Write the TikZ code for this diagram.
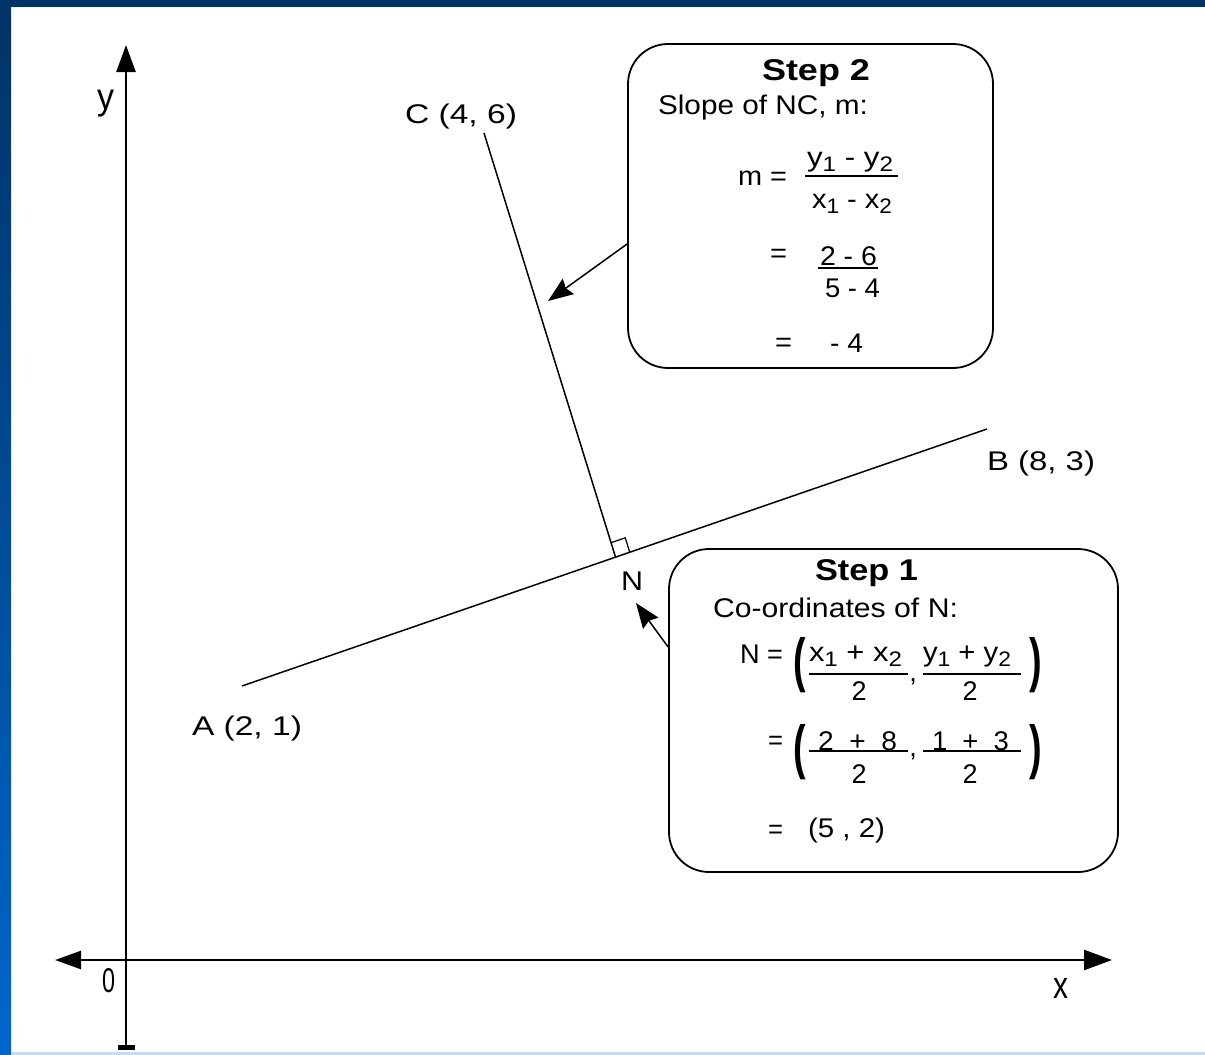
\documentclass[tikz,border=0pt]{standalone}
\usepackage{fontspec}
\setmainfont{Liberation Sans}
\usepackage{graphicx}
\usetikzlibrary{arrows.meta,calc}
\definecolor{navy}{RGB}{0,51,102}
\definecolor{frameblue}{RGB}{0,102,204}
\definecolor{lightband}{RGB}{196,218,250}
\newcommand\fitw[2]{\resizebox{#1pt}{\height}{#2}}
\newcommand\sbs[1]{\raisebox{-5pt}{\fontsize{21}{21}\selectfont #1}}
\begin{document}
\begin{tikzpicture}[x=1pt,y=-1pt,
  lbl/.style={inner sep=0pt, outer sep=0pt, anchor=base west, font=\fontsize{27}{30}\selectfont},
  ttl/.style={lbl, font=\fontsize{30}{33}\selectfont\bfseries},
  digit/.style={inner sep=0pt, outer sep=0pt, anchor=base, font=\fontsize{27}{30}\selectfont},
  paren/.style={inner sep=0pt, outer sep=0pt, font=\fontsize{27}{30}\selectfont\bfseries},
  stepbox/.style={draw, line width=1.8pt, rounded corners=40pt, inner sep=0pt},
  axis/.style={line width=2.6pt},
  seg/.style={line width=1.5pt},
  callout/.style={line width=1.5pt, -{Stealth[length=25pt,width=19pt,inset=3pt]}},
  fbar/.style={line width=1.6pt},
]
\useasboundingbox (0,0) rectangle (1205,1055);
\fill[white] (0,0) rectangle (1205,1055);
% frame
\shade[top color=navy, bottom color=frameblue] (0,0) rectangle (11,1055);
\fill[navy] (0,0) rectangle (1205,6.5);
\fill[lightband] (11,1052) rectangle (1205,1055);

% axes
\coordinate (yb) at (126,1047);
\coordinate (yt) at (126,45);
\coordinate (xl) at (55,960);
\coordinate (xr) at (1112,960);
\coordinate (o) at (126,960);
\draw[axis, -{Triangle[length=27pt,width=19pt]}] (yb) -- (yt);
\fill (118,1045) rectangle (135,1049.5);
\draw[axis, -{Triangle[length=26pt,width=18pt]}] (o) -- (xl);
\draw[axis, -{Triangle[length=28pt,width=20pt]}] (o) -- (xr);
\node[lbl] (ylab) at (97,109) {\resizebox*{17pt}{27pt}{y}};
\node[lbl] (olab) at (102,992) {\resizebox{13pt}{24pt}{0}};
\node[lbl] (xlab) at (1053,998) {\resizebox{15pt}{20pt}{x}};

% points and lines
\coordinate (pA) at (242,686);
\coordinate (pB) at (987,429);
\coordinate (pC) at (484,133);
\coordinate (pN) at (615.5,557);
\draw[seg] (pA) -- (pB);
\draw[seg] (pC) -- (pN);
\coordinate (q1) at ($(pN)!15pt!(pC)$);
\coordinate (q2) at ($(pN)!15pt!(pB)$);
\coordinate (q3) at ($(q1)+(q2)-(pN)$);
\draw[line width=1.2pt] (q1) -- (q3) -- (q2);

\node[lbl] (clab) at (405,123) {\fitw{112}{C (4, 6)}};
\node[lbl] (alab) at (192,735) {\fitw{110}{A (2, 1)}};
\node[lbl] (blab) at (987,470) {\fitw{108}{B (8, 3)}};
\node[lbl] (nlab) at (621,590) {\fitw{22}{N}};

% Step 2 box
\node[stepbox, minimum width=365pt, minimum height=324pt] (s2) at (810.5,206) {};
\node[ttl] (s2t) at (762,80) {\fitw{108}{Step 2}};
\node[lbl] (s2a) at (658,114) {\fitw{210}{Slope of NC, m:}};
\node[lbl] (s2m) at (738,185) {\fitw{49}{m =}};
\node[lbl] (s2n1) at (807,166) {\fitw{86}{y\sbs{1} - y\sbs{2}}};
\draw[fbar] (805,176) -- (898,176);
\node[lbl] (s2d1) at (812,208) {\fitw{80}{x\sbs{1} - x\sbs{2}}};
\node[lbl] (s2e1) at (770,262) {\fitw{17}{=}};
\node[lbl] (s2n2) at (820,265) {\fitw{57}{2 - 6}};
\draw[fbar] (818,268) -- (878,268);
\node[lbl] (s2d2) at (825,297) {\fitw{55}{5 - 4}};
\node[lbl] (s2e2) at (775,351) {\fitw{17}{=}};
\node[lbl] (s2r) at (830,352) {\fitw{33}{- 4}};

% Step 1 box
\node[stepbox, minimum width=449pt, minimum height=323pt] (s1) at (893.5,710.5) {};
\node[ttl] (s1t) at (815,580) {\fitw{103}{Step 1}};
\node[lbl] (s1a) at (713,617) {\fitw{245}{Co-ordinates of N:}};
\node[lbl] (s1N) at (740,663) {\fitw{43}{N =}};
\node[paren] (lp1) at (800,665) {\scalebox{1.4}[2.2]{(}};
\node[lbl] (n11) at (809,661) {\fitw{93}{x\sbs{1} + x\sbs{2}}};
\draw[fbar] (809,674) -- (908,674);
\node[digit] (d11) at (859,700) {2};
\node[digit] (c1) at (913,681) {,};
\node[lbl] (n12) at (923,661) {\fitw{88}{y\sbs{1} + y\sbs{2}}};
\draw[fbar] (923,674) -- (1021,674);
\node[digit] (d12) at (970,700) {2};
\node[paren] (rp1) at (1036,665) {\scalebox{1.4}[2.2]{)}};

\node[lbl] (e21) at (768,749) {\fitw{15}{=}};
\node[paren] (lp2) at (800,752) {\scalebox{1.4}[2.2]{(}};
\node[lbl] (n21) at (818,750) {\fitw{79}{2 \ + \ 8}};
\draw[fbar] (809,751) -- (908,751);
\node[digit] (d21) at (859,783) {2};
\node[digit] (c2) at (913,756) {,};
\node[lbl] (n22) at (932,750) {\fitw{77}{1 \ + \ 3}};
\draw[fbar] (923,751) -- (1021,751);
\node[digit] (d22) at (970,783) {2};
\node[paren] (rp2) at (1036,752) {\scalebox{1.4}[2.2]{)}};

\node[lbl] (e31) at (768,838) {\fitw{15}{=}};
\node[lbl] (res) at (808,837) {\fitw{77}{(5 , 2)}};

% callout arrows
\coordinate (t2) at (548,301);
\coordinate (t1) at (636,603);
\draw[callout] ([yshift=-38pt]s2.west) -- (t2);
\draw[callout] ([yshift=63.5pt]s1.west) -- (t1);
\end{tikzpicture}
\end{document}
